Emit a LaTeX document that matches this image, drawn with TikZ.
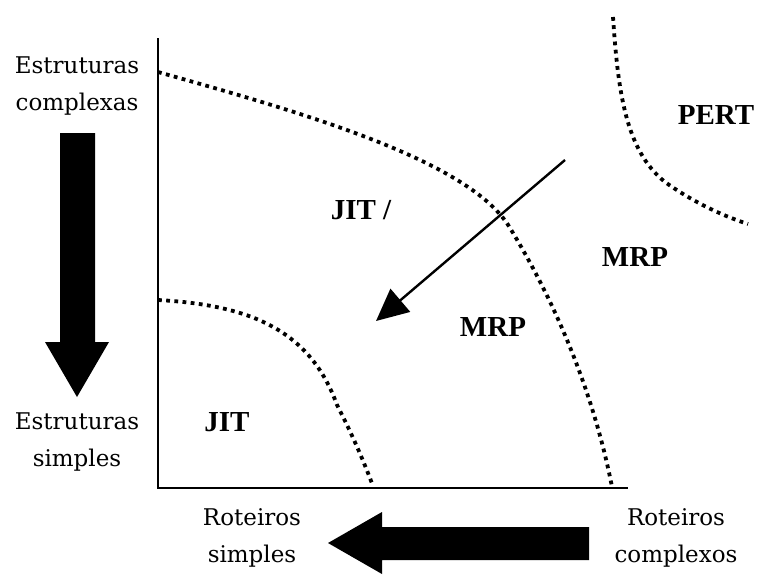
\documentclass[tikz,border=0pt]{standalone}
\usepackage{fontspec}
\setmainfont{Liberation Serif}
\newfontfamily\axisfont{DejaVu Serif}
\usetikzlibrary{arrows.meta}
\tikzset{
  axisline/.style={line width=1.6pt},
  bound/.style={line width=3.8pt, dash pattern=on 3.8pt off 4.4pt},
  axislabel/.style={align=center, inner sep=0pt, font=\axisfont\fontsize{23}{37}\selectfont},
  region/.style={inner sep=0pt, font=\bfseries\fontsize{29}{31}\selectfont},
  bigarrow/.style={fill=black, draw=none},
}
\begin{document}
\begin{tikzpicture}[x=1pt, y=-1pt]
\useasboundingbox (0,0) rectangle (759,574);
\fill[white] (0,0) rectangle (759,574);

% axes
\coordinate (top) at (158,38);
\coordinate (origin) at (158,488);
\coordinate (right) at (628,488);
\draw[axisline] (top) -- (origin) -- (right);

% region boundaries
\draw[bound] (158,72) .. controls (300,112) and (470,160) .. (510,228)
  .. controls (560,310) and (595,400) .. (612,487);
\draw[bound] (158,300) .. controls (250,305) and (310,330) .. (337,405)
  .. controls (355,440) and (365,465) .. (373,486);
\draw[bound] (613,17) .. controls (618,90) and (625,150) .. (665,182)
  .. controls (690,200) and (720,215) .. (748,224);

% diagonal arrow
\coordinate (astart) at (565,160);
\coordinate (aend) at (376,321);
\draw[line width=2.4pt, -{Triangle[length=32pt, width=30pt]}] (astart) -- (aend);

% block arrows
\fill[bigarrow] (60,133) -- (95,133) -- (95,342) -- (109,342) -- (77,397)
  -- (45,342) -- (60,342) -- cycle;
\fill[bigarrow] (589,527) -- (589,560) -- (382,560) -- (382,574) -- (328,543)
  -- (382,512) -- (382,527) -- cycle;

% axis labels
\node[axislabel] (ec) at (77,86) {Estruturas\\complexas};
\node[axislabel] (es) at (77,442) {Estruturas\\simples};
\node[axislabel] (rs) at (252,538) {Roteiros\\simples};
\node[axislabel] (rc) at (676,538) {Roteiros\\complexos};

% region labels
\node[region] (jitmrp) at (361,210) {JIT /};
\node[region] (mrpa) at (493,327) {MRP};
\node[region] (mrpb) at (635,257) {MRP};
\node[region] (pert) at (716,115) {PERT};
\node[region] (jit) at (227,422) {JIT};
\end{tikzpicture}
\end{document}
